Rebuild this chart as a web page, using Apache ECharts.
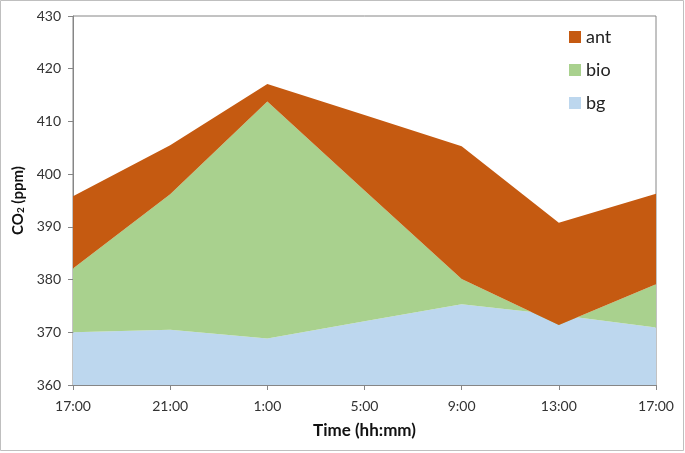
<!DOCTYPE html>
<html>
<head>
<meta charset="utf-8">
<script src="https://cdn.jsdelivr.net/npm/echarts@6/dist/echarts.min.js"></script>
<style>
html,body{margin:0;padding:0;background:#fff;}
#chart{width:685px;height:453px;}
</style>
</head>
<body>
<div id="chart"></div>
<script>
// Categories (time of day)
var categories = ['17:00', '21:00', '1:00', '5:00', '9:00', '13:00', '17:00'];
// Component contributions (ppm), stacked: bg + bio + ant
var bgValues  = [370.0, 370.5, 368.8, 372.1, 375.3, 373.3, 370.9];
var bioValues = [12.1, 25.7, 45.0, 24.8, 4.8, -1.9, 8.2];
var antValues = [13.7, 9.3, 3.3, 14.3, 25.2, 19.4, 17.2];
// Y axis range
var yMin = 360, yMax = 430, yStep = 10;

var FONT = 'Lato, "Liberation Sans", sans-serif';
var chart = echarts.init(document.getElementById('chart'), null, {renderer: 'canvas'});

function areaSeries(name, data, color) {
  return {
    name: name,
    type: 'line',
    stack: 'total',
    stackStrategy: 'all',
    data: data,
    symbol: 'none',
    showSymbol: false,
    lineStyle: {width: 0, opacity: 0},
    areaStyle: {color: color, opacity: 1},
    itemStyle: {color: color},
    emphasis: {disabled: true},
    silent: true,
    animation: false
  };
}

chart.setOption({
  animation: false,
  backgroundColor: '#ffffff',
  textStyle: {fontFamily: FONT},
  graphic: [{
    type: 'rect',
    shape: {x: 0.5, y: 0.5, width: 683, height: 450},
    style: {fill: 'none', stroke: '#bfbfbf', lineWidth: 1},
    silent: true
  }],
  grid: {
    left: 73, right: 29, top: 16, bottom: 68,
    show: true, borderColor: '#868686', borderWidth: 1,
    backgroundColor: 'transparent'
  },
  legend: {
    data: ['ant', 'bio', 'bg'],
    orient: 'vertical',
    left: 569, top: 28,
    padding: 0,
    itemWidth: 12, itemHeight: 12,
    itemGap: 15,
    icon: 'rect',
    textStyle: {fontSize: 18, color: '#222', fontFamily: FONT},
    selectedMode: false
  },
  xAxis: {
    type: 'category',
    data: categories,
    boundaryGap: false,
    name: 'Time (hh:mm)',
    nameLocation: 'middle',
    nameGap: 37,
    nameTextStyle: {fontSize: 17, fontWeight: 'bold', color: '#111', fontFamily: FONT},
    axisLine: {lineStyle: {color: '#868686', width: 1}},
    axisTick: {show: true, length: 5, lineStyle: {color: '#868686'}},
    axisLabel: {fontSize: 14, color: '#333', margin: 14, fontFamily: FONT},
    splitLine: {show: false}
  },
  yAxis: {
    type: 'value',
    min: yMin, max: yMax, interval: yStep,
    name: 'CO{sub|2} (ppm)',
    nameLocation: 'middle',
    nameGap: 44,
    nameRotate: 90,
    nameTextStyle: {
      fontSize: 15, fontWeight: 'bold', color: '#111', fontFamily: FONT,
      rich: {sub: {fontSize: 10, fontWeight: 'bold', color: '#111', verticalAlign: 'bottom', padding: [6, 0, 0, 0], fontFamily: FONT}}
    },
    axisLine: {show: true, lineStyle: {color: '#868686', width: 1}},
    axisTick: {show: true, length: 5, lineStyle: {color: '#868686'}},
    axisLabel: {fontSize: 14, color: '#333', margin: 12, fontFamily: FONT},
    splitLine: {show: false}
  },
  series: [
    areaSeries('bg', bgValues, '#BDD7EE'),
    areaSeries('bio', bioValues, '#A9D18E'),
    areaSeries('ant', antValues, '#C55A11')
  ]
});
</script>
</body>
</html>
